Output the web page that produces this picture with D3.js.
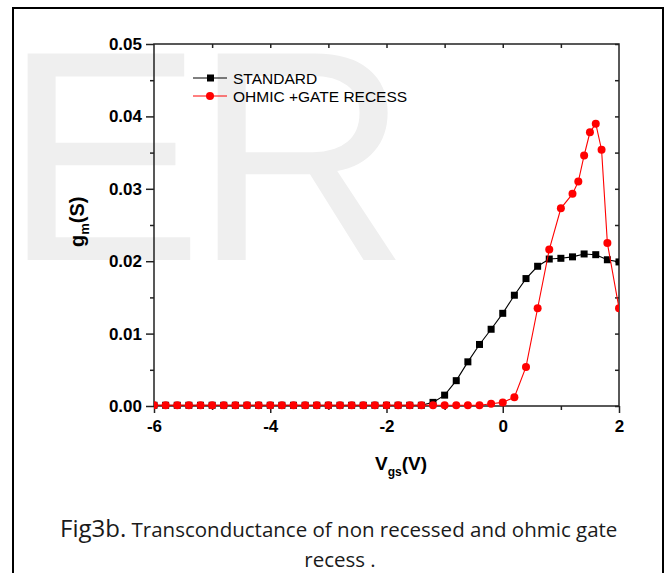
<!DOCTYPE html>
<html><head><meta charset="utf-8">
<script src="https://cdn.jsdelivr.net/npm/d3@7"></script>
<style>body{margin:0;background:#fff} svg{display:block}</style>
</head><body><svg id="c" width="666" height="573"></svg>
<script>
// ---- data ----
const xStandard = [-6.0,-5.8,-5.6,-5.4,-5.2,-5.0,-4.8,-4.6,-4.4,-4.2,-4.0,-3.8,-3.6,-3.4,-3.2,-3.0,-2.8,-2.6,-2.4,-2.2,-2.0,-1.8,-1.6,-1.4,-1.2,-1.0,-0.8,-0.6,-0.4,-0.2,0.0,0.2,0.4,0.6,0.8,1.0,1.2,1.4,1.6,1.8,2.0];
const yStandard = [0.0001,0.0001,0.0001,0.0001,0.0001,0.0001,0.0001,0.0001,0.0001,0.0001,0.0001,0.0001,0.0001,0.0001,0.0001,0.0001,0.0001,0.0001,0.0001,0.0001,0.0001,0.0001,0.0001,0.0001,0.0005,0.0015,0.0035,0.0061,0.0085,0.0106,0.0128,0.0153,0.0176,0.0193,0.0203,0.0204,0.0206,0.0210,0.0209,0.0202,0.0199];
const xRecess = [-6.0,-5.8,-5.6,-5.4,-5.2,-5.0,-4.8,-4.6,-4.4,-4.2,-4.0,-3.8,-3.6,-3.4,-3.2,-3.0,-2.8,-2.6,-2.4,-2.2,-2.0,-1.8,-1.6,-1.4,-1.2,-1.0,-0.8,-0.6,-0.4,-0.2,0.0,0.2,0.4,0.6,0.8,1.0,1.2,1.3,1.4,1.5,1.6,1.7,1.8,2.0];
const yRecess = [0.0001,0.0001,0.0001,0.0001,0.0001,0.0001,0.0001,0.0001,0.0001,0.0001,0.0001,0.0001,0.0001,0.0001,0.0001,0.0001,0.0001,0.0001,0.0001,0.0001,0.0001,0.0001,0.0001,0.0001,0.0001,0.0001,0.0001,0.0001,0.0001,0.0003,0.0005,0.0012,0.0054,0.0135,0.0216,0.0273,0.0293,0.0310,0.0346,0.0378,0.0390,0.0354,0.0225,0.0135];
const seriesNames = ["STANDARD", "OHMIC +GATE RECESS"];
const xMajorTicks = [-6,-4,-2,0,2];
const xMinorTicks = [-5,-3,-1,1];
const xTopTicks = [-5,-4,-3,-2,-1,0,1];
const yMajorTicks = [0,0.01,0.02,0.03,0.04,0.05];
const yMinorTicks = [0.005,0.015,0.025,0.035,0.045];
const captionLead = "Fig3b.";
const captionLine1 = " Transconductance of non recessed and ohmic gate";
const captionLine2 = "recess .";

// ---- drawing ----
const svg = d3.select("#c");
const L = 154, R = 619, T = 44, B = 406;
const x = d3.scaleLinear().domain([-6,2]).range([L,R]);
const y = d3.scaleLinear().domain([0,0.05]).range([B,T]);
const axisFont = "'Liberation Sans', Arial, sans-serif";

// watermark
svg.append("text").attr("x",3).attr("y",260)
  .attr("font-family",axisFont).attr("font-size",300).attr("letter-spacing",-10)
  .attr("fill","#efefef").text("ER");

// outer frame
svg.append("rect").attr("x",13).attr("y",8).attr("width",650).attr("height",620)
  .attr("fill","none").attr("stroke","#000").attr("stroke-width",2);

function styleAxis(g){
  g.select(".domain").remove();
  g.selectAll("line").attr("stroke","#222").attr("stroke-width",1.5);
  g.selectAll("text").attr("font-family",axisFont).attr("font-weight","bold")
    .attr("font-size",17).attr("fill","#000");
}
function ticksOnly(g){
  g.select(".domain").remove();
  g.selectAll("text").remove();
  g.selectAll("line").attr("stroke","#222").attr("stroke-width",1.5);
}
svg.append("g").attr("transform",`translate(${L},0)`)
  .call(d3.axisLeft(y).tickValues(yMajorTicks).tickFormat(d3.format(".2f")).tickSize(8).tickPadding(4))
  .call(styleAxis);
svg.append("g").attr("transform",`translate(${L},0)`)
  .call(d3.axisLeft(y).tickValues(yMinorTicks).tickSize(4)).call(ticksOnly);
svg.append("g").attr("transform",`translate(0,${B})`)
  .call(d3.axisBottom(x).tickValues(xMajorTicks).tickFormat(d=>String(d)).tickSize(7).tickPadding(7))
  .call(styleAxis);
svg.append("g").attr("transform",`translate(0,${B})`)
  .call(d3.axisBottom(x).tickValues(xMinorTicks).tickSize(4)).call(ticksOnly);
svg.append("g").attr("transform",`translate(0,${T})`)
  .call(d3.axisTop(x).tickValues(xTopTicks).tickSize(-4)).call(ticksOnly);
svg.append("g").attr("transform",`translate(${R},0)`)
  .call(d3.axisRight(y).tickValues(yMajorTicks.concat(yMinorTicks)).tickSize(-4)).call(ticksOnly);

svg.append("rect").attr("x",L).attr("y",T).attr("width",R-L).attr("height",B-T)
  .attr("fill","none").attr("stroke","#222").attr("stroke-width",1.5);

// clip
svg.append("clipPath").attr("id","clip").append("rect")
  .attr("x",L).attr("y",T-10).attr("width",R-L).attr("height",B-T+20);
const plot = svg.append("g").attr("clip-path","url(#clip)");

const std = xStandard.map((v,i)=>[v,yStandard[i]]);
const rec = xRecess.map((v,i)=>[v,yRecess[i]]);
const line = d3.line().x(d=>x(d[0])).y(d=>y(d[1]));

plot.append("path").attr("d",line(std)).attr("fill","none").attr("stroke","#000").attr("stroke-width",1.1);
plot.selectAll("rect.s").data(std).join("rect").attr("class","s")
  .attr("x",d=>x(d[0])-3.5).attr("y",d=>y(d[1])-3.5).attr("width",7).attr("height",7).attr("fill","#000");
plot.append("path").attr("d",line(rec)).attr("fill","none").attr("stroke","#f00").attr("stroke-width",1.1);
plot.selectAll("circle.r").data(rec).join("circle").attr("class","r")
  .attr("cx",d=>x(d[0])).attr("cy",d=>y(d[1])).attr("r",4).attr("fill","#f00");

// legend
const lg = svg.append("g");
[[78,"#000"],[96,"#f00"]].forEach(([yy,c],i)=>{
  lg.append("line").attr("x1",193).attr("x2",227).attr("y1",yy).attr("y2",yy).attr("stroke",c).attr("stroke-width",1);
  if(i===0) lg.append("rect").attr("x",207).attr("y",yy-3.5).attr("width",7).attr("height",7).attr("fill",c);
  else lg.append("circle").attr("cx",210).attr("cy",yy).attr("r",4).attr("fill",c);
  lg.append("text").attr("x",233).attr("y",yy+5.5).attr("font-family",axisFont).attr("font-size",15.5)
    .attr("fill","#000").text(seriesNames[i]);
});

// axis titles
const yt = svg.append("text").attr("transform","translate(84,247) rotate(-90)")
  .attr("font-family",axisFont).attr("font-weight","bold").attr("font-size",20).attr("fill","#000");
yt.append("tspan").text("g");
yt.append("tspan").attr("font-size",13).attr("dy",5).text("m");
yt.append("tspan").attr("dy",-5).text("(S)");

const xt = svg.append("text").attr("x",375).attr("y",470)
  .attr("font-family",axisFont).attr("font-weight","bold").attr("font-size",19).attr("fill","#000");
xt.append("tspan").text("V");
xt.append("tspan").attr("font-size",12).attr("dy",6).text("gs");
xt.append("tspan").attr("dy",-6).text("(V)");

// caption
const capFont = "'Open Sans', sans-serif";
const c1 = svg.append("text").attr("x",60).attr("y",537).attr("font-family",capFont).attr("fill","#1a1a1a");
c1.append("tspan").attr("font-size",24).text(captionLead);
c1.append("tspan").attr("font-size",20.5).attr("xml:space","preserve").text(captionLine1);
svg.append("text").attr("x",340).attr("y",567).attr("text-anchor","middle")
  .attr("font-family",capFont).attr("font-size",20.5).attr("fill","#1a1a1a").text(captionLine2);
</script></body></html>
